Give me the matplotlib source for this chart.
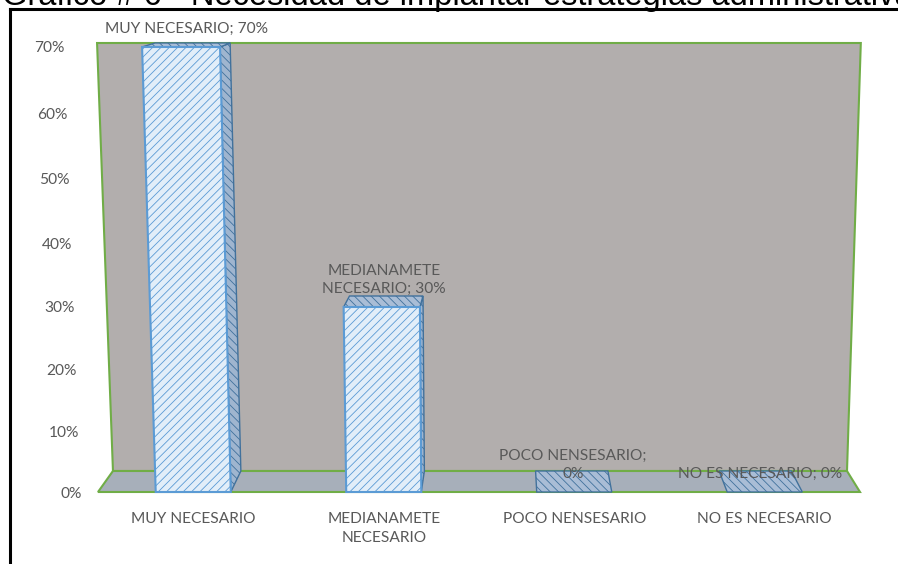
import numpy as np
import matplotlib
matplotlib.use("Agg")
import matplotlib.pyplot as plt
from matplotlib.patches import Polygon
from matplotlib.lines import Line2D

titulo = "Gráfico # 6 - Necesidad de implantar estrategias administrativas"
categorias = ["MUY NECESARIO", "MEDIANAMETE\nNECESARIO", "POCO NENSESARIO", "NO ES NECESARIO"]
nombres_etiqueta = ["MUY NECESARIO; ", "MEDIANAMETE\nNECESARIO; ", "POCO NENSESARIO;\n", "NO ES NECESARIO; "]
valores = [70, 30, 0, 0]
ticks_y = [0, 10, 20, 30, 40, 50, 60, 70]

plt.rcParams["font.family"] = ["Lato", "DejaVu Sans"]
plt.rcParams["hatch.linewidth"] = 0.6

GRIS_TXT = "#595959"
VERDE = "#70ad47"
PARED = "#b2aead"
PISO = "#a7afba"
AZUL = "#5b9bd5"
AZUL_OSC = "#41719c"
FS = 11.2

YMAX = 70
A, B = 6.024, 0.00476


# escala vertical en perspectiva (mas alto arriba)
def fwd(h):
    h = np.asarray(h, dtype=float)
    return A * h + B * h * h


def inv(s):
    s = np.asarray(s, dtype=float)
    return (-A + np.sqrt(np.maximum(A * A + 4 * B * s, 0))) / (2 * B)


CV, KD, KL = 1.64, 0.0367, 0.039


def prof(h):
    return 21 - 0.401 * h + 0.00226 * h * h


def proyectar(c, h, d):
    s = fwd(h) + d * prof(h)
    cx = c + (c - CV) * (KL * fwd(h) / fwd(YMAX) - KD * d)
    return float(cx), float(inv(s))


def cara(puntos, **kw):
    return Polygon([proyectar(*p) for p in puntos], closed=True, clip_on=False, **kw)


fig = plt.figure(figsize=(8.98, 5.64), dpi=100)
ax = fig.add_axes([98 / 898, 72 / 564, 762 / 898, 445 / 564])
ax.set_yscale("function", functions=(fwd, inv))
ax.set_xlim(-0.5, 3.5)
ax.set_ylim(0, YMAX)
ax.patch.set_visible(False)
for sp in ax.spines.values():
    sp.set_visible(False)

x0, x1 = -0.5, 3.5
# pared del fondo y piso
ax.add_patch(cara([(x0, 0, 1), (x1, 0, 1), (x1, YMAX, 1), (x0, YMAX, 1)],
                  facecolor=PARED, edgecolor=VERDE, lw=1.5, zorder=1))
ax.add_patch(cara([(x0, 0, 0), (x1, 0, 0), (x1, 0, 1), (x0, 0, 1)],
                  facecolor=PISO, edgecolor=VERDE, lw=1.5, zorder=1))

hw = 0.197
for i, v in enumerate(valores):
    c = i
    # cara lateral hacia el centro
    lado = c + hw if c < CV else c - hw
    if v > 0:
        ax.add_patch(cara([(lado, 0, 0), (lado, 0, 1), (lado, v, 1), (lado, v, 0)],
                          facecolor="#9fb5cf", edgecolor=AZUL_OSC, hatch="\\\\\\\\",
                          lw=1.0, zorder=2))
    # cara superior
    ax.add_patch(cara([(c - hw, v, 0), (c + hw, v, 0), (c + hw, v, 1), (c - hw, v, 1)],
                      facecolor="#a9bdd6", edgecolor=AZUL_OSC, hatch="\\\\\\\\",
                      lw=1.0, zorder=3))
    if v > 0:
        ax.add_patch(cara([(c - hw, 0, 0), (c + hw, 0, 0), (c + hw, v, 0), (c - hw, v, 0)],
                          facecolor="#e2eef9", edgecolor=AZUL, hatch="////",
                          lw=1.5, zorder=4))
    # etiqueta de datos
    xe, _ = proyectar(c, v, 0.5)
    _, ye = proyectar(c, v, 0)
    ax.annotate(f"{nombres_etiqueta[i]}{v}%", xy=(xe, ye), xytext=(0, 8),
                textcoords="offset points", ha="center", va="bottom",
                multialignment="center", linespacing=1.35, fontsize=FS,
                color=GRIS_TXT, zorder=6, annotation_clip=False)

ax.set_yticks(ticks_y)
ax.set_yticklabels([f"{t}%" for t in ticks_y])
ax.set_xticks(range(len(categorias)))
ax.set_xticklabels(categorias, linespacing=1.4)
ax.tick_params(axis="y", length=0, pad=24, labelsize=FS, labelcolor=GRIS_TXT)
ax.tick_params(axis="x", length=0, pad=14.5, labelsize=FS, labelcolor=GRIS_TXT)
ax.minorticks_off()

# las etiquetas del eje y siguen la inclinacion de la pared
for t, tick in zip(ticks_y, ax.yaxis.get_major_ticks()):
    tick.label1.set_x(17 * (1 - float(fwd(t)) / float(fwd(YMAX))) / 762)

# marco negro del recuadro
fig.add_artist(Line2D([10 / 898, 10 / 898], [0, 1 - 9 / 564], color="black", lw=2.2,
                      transform=fig.transFigure))
fig.add_artist(Line2D([10 / 898, 1], [1 - 9 / 564, 1 - 9 / 564], color="black", lw=2.2,
                      transform=fig.transFigure))

fig.text(0.002, 1 - 5 / 564, titulo, ha="left", va="baseline", fontsize=23.5,
         family="Liberation Sans", color="black")

fig.savefig("out.png", dpi=100)
